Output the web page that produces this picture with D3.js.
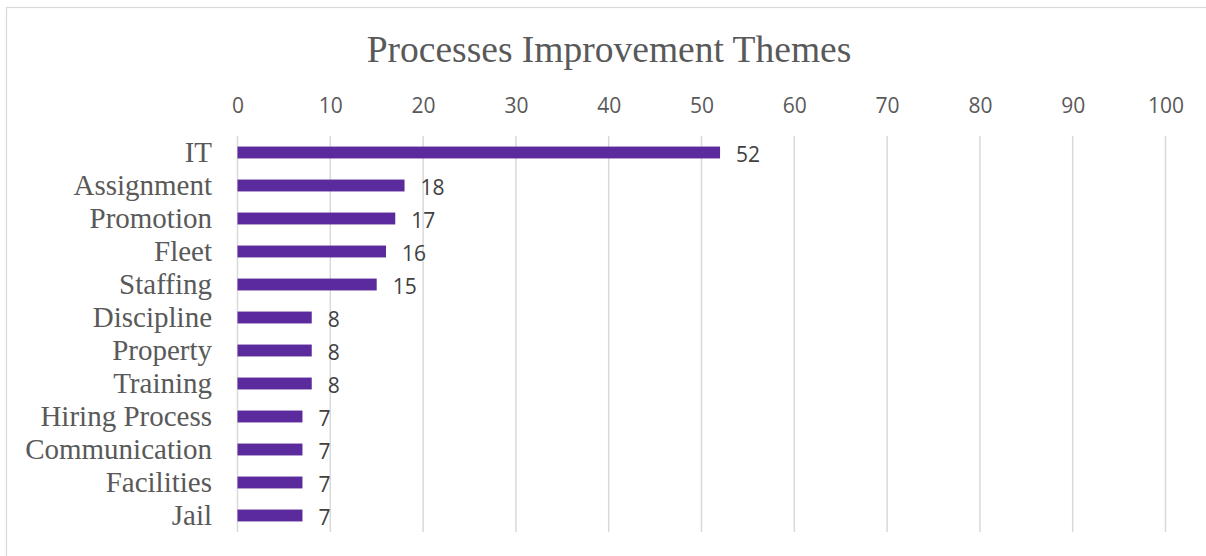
<!DOCTYPE html>
<html>
<head>
<meta charset="utf-8">
<script src="https://cdn.jsdelivr.net/npm/d3@7"></script>
<style>
  html, body { margin: 0; padding: 0; background: #fff; }
  svg { display: block; }
</style>
</head>
<body>
<svg id="chart" width="1206" height="556"></svg>
<script>
const categories = ["IT", "Assignment", "Promotion", "Fleet", "Staffing", "Discipline",
  "Property", "Training", "Hiring Process", "Communication", "Facilities", "Jail"];
const values = [52, 18, 17, 16, 15, 8, 8, 8, 7, 7, 7, 7];
const tickValues = [0, 10, 20, 30, 40, 50, 60, 70, 80, 90, 100];
const title = "Processes Improvement Themes";

const svg = d3.select("#chart");

// chart area frame
svg.append("rect")
  .attr("x", 6.5).attr("y", 7.5)
  .attr("width", 1220).attr("height", 570)
  .attr("fill", "#fff").attr("stroke", "#d9d9d9").attr("stroke-width", 1.2);

svg.append("text")
  .attr("x", 609).attr("y", 62)
  .attr("text-anchor", "middle")
  .attr("font-family", "'Liberation Serif', 'Times New Roman', serif")
  .attr("font-size", 37.5)
  .attr("fill", "#595959")
  .text(title);

const x = d3.scaleLinear().domain([0, 100]).range([237.5, 1165.5]);
const y = d3.scaleBand().domain(categories).range([136, 532]).paddingInner(0.64).paddingOuter(0.32);

// vertical gridlines
svg.append("g").selectAll("line")
  .data(tickValues)
  .join("line")
  .attr("x1", d => x(d)).attr("x2", d => x(d))
  .attr("y1", 136).attr("y2", 532)
  .attr("stroke", "#d9d9d9").attr("stroke-width", 1.5);

// top axis tick labels
const axis = d3.axisTop(x).tickValues(tickValues).tickSize(0).tickPadding(0);
const gAxis = svg.append("g").attr("transform", "translate(0,113)").call(axis);
gAxis.select(".domain").remove();
gAxis.selectAll("text")
  .attr("font-family", "'Open Sans', 'Noto Sans', sans-serif")
  .attr("font-size", 21)
  .attr("fill", "#595959");

// category labels
const yAxis = d3.axisLeft(y).tickSize(0).tickPadding(0);
const gY = svg.append("g").attr("transform", "translate(212,0)").call(yAxis);
gY.select(".domain").remove();
gY.selectAll("text")
  .attr("font-family", "'Liberation Serif', 'Times New Roman', serif")
  .attr("font-size", 29)
  .attr("fill", "#595959")
  .attr("dy", "0.34em");

// bars
svg.append("g").selectAll("rect")
  .data(values)
  .join("rect")
  .attr("x", x(0))
  .attr("y", (d, i) => y(categories[i]))
  .attr("width", d => x(d) - x(0))
  .attr("height", y.bandwidth())
  .attr("fill", "#5B2A9C");

// value labels
svg.append("g").selectAll("text")
  .data(values)
  .join("text")
  .attr("x", d => x(d) + 16)
  .attr("y", (d, i) => y(categories[i]) + y.bandwidth() / 2 + 2)
  .attr("dy", "0.36em")
  .attr("font-family", "'Open Sans', 'Noto Sans', sans-serif")
  .attr("font-size", 21)
  .attr("fill", "#404040")
  .text(d => d);
</script>
</body>
</html>
